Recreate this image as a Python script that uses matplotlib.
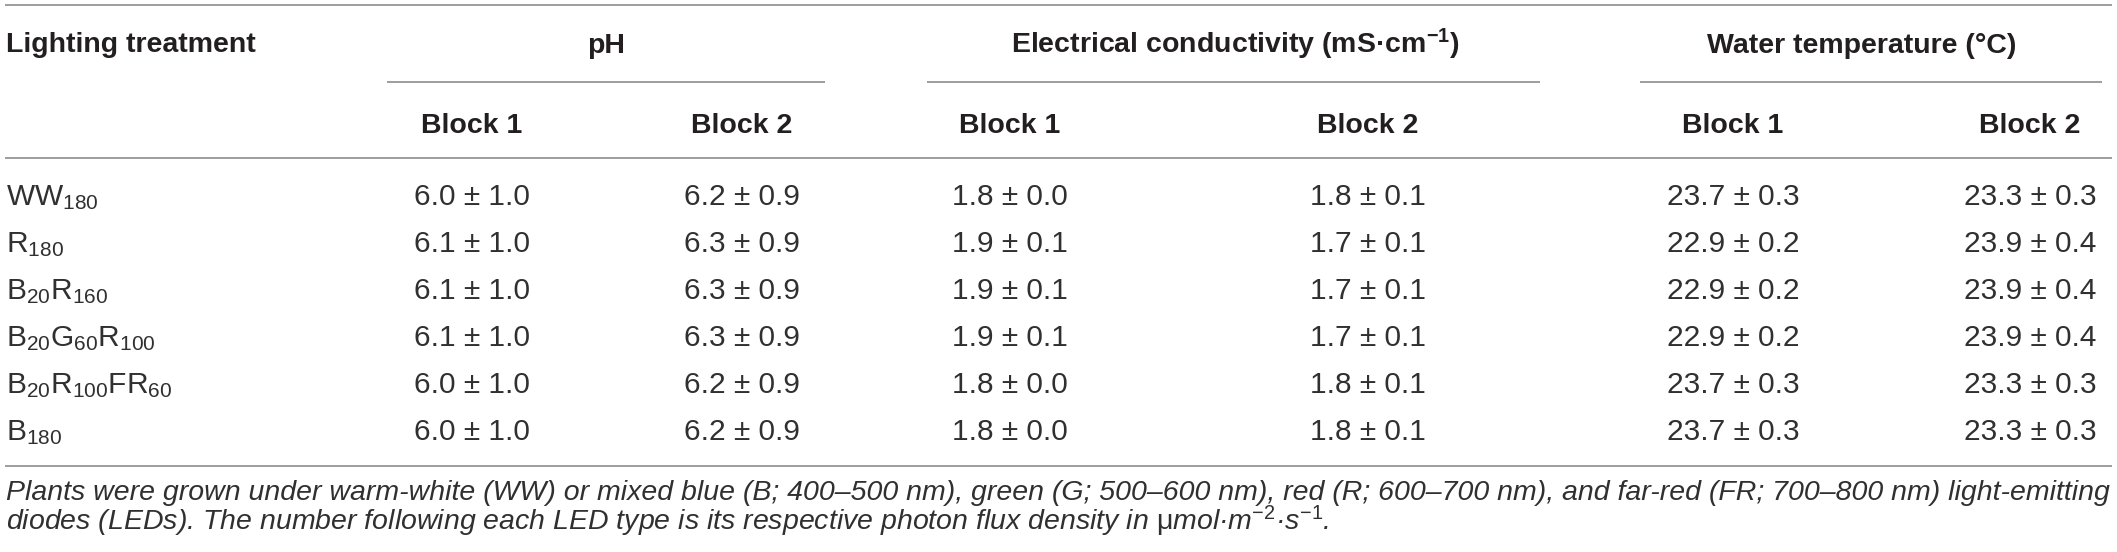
import matplotlib
matplotlib.use("Agg")
import matplotlib.pyplot as plt

plt.rcParams['font.family'] = ['Liberation Sans', 'DejaVu Sans']
plt.rcParams['mathtext.fontset'] = 'custom'
plt.rcParams['mathtext.rm'] = 'Liberation Sans'
plt.rcParams['mathtext.it'] = 'Liberation Sans:italic'
plt.rcParams['mathtext.bf'] = 'Liberation Sans:bold'

# table content
treatments = ["WW$_{180}$", "R$_{180}$", "B$_{20}$R$_{160}$", "B$_{20}$G$_{60}$R$_{100}$",
              "B$_{20}$R$_{100}$FR$_{60}$", "B$_{180}$"]
groups = ["pH", "Electrical conductivity (mS·cm$^{\\mathbf{-1}}$)", "Water temperature (°C)"]
blocks = ["Block 1", "Block 2"]

ph_b1 = [(6.0, 1.0), (6.1, 1.0), (6.1, 1.0), (6.1, 1.0), (6.0, 1.0), (6.0, 1.0)]
ph_b2 = [(6.2, 0.9), (6.3, 0.9), (6.3, 0.9), (6.3, 0.9), (6.2, 0.9), (6.2, 0.9)]
ec_b1 = [(1.8, 0.0), (1.9, 0.1), (1.9, 0.1), (1.9, 0.1), (1.8, 0.0), (1.8, 0.0)]
ec_b2 = [(1.8, 0.1), (1.7, 0.1), (1.7, 0.1), (1.7, 0.1), (1.8, 0.1), (1.8, 0.1)]
wt_b1 = [(23.7, 0.3), (22.9, 0.2), (22.9, 0.2), (22.9, 0.2), (23.7, 0.3), (23.7, 0.3)]
wt_b2 = [(23.3, 0.3), (23.9, 0.4), (23.9, 0.4), (23.9, 0.4), (23.3, 0.3), (23.3, 0.3)]

caption1 = ("Plants were grown under warm-white (WW) or mixed blue (B; 400–500 nm), green (G; 500–600 nm), "
            "red (R; 600–700 nm), and far-red (FR; 700–800 nm) light-emitting")
caption2 = ("diodes (LEDs). The number following each LED type is its respective photon flux density in "
            "$\\mathrm{\\mu}$mol·m$^{-2}$·s$^{-1}$.")

# layout (pixel coords)
W, H = 2117, 552
col_x = [472, 742, 1010, 1368, 1733, 2030]
group_x = [606, 1235, 1862]
group_lines = [(387, 825), (927, 1540), (1640, 2102)]
row_y0, row_dy = 205, 47.1
txt = '#231f20'
body_c = '#303030'
line_c = '#808285'

fig = plt.figure(figsize=(W / 100, H / 100), dpi=100)
ax = fig.add_axes([0, 0, 1, 1])
ax.set_xlim(0, W)
ax.set_ylim(H, 0)
ax.axis('off')

# rules
for y in [5, 158, 466]:
    ax.hlines(y, 5, 2112, color=line_c, lw=1.1)
for x0, x1 in group_lines:
    ax.hlines(82, x0, x1, color=line_c, lw=1.1)

# header
hfs = 20.5
ax.text(6, 52, "Lighting treatment", fontsize=hfs, fontweight='bold', color=txt, va='baseline')
for gx, g in zip(group_x, groups):
    ax.text(gx, 53, g, fontsize=hfs, fontweight='bold', color=txt, ha='center', va='baseline')
for i, cx in enumerate(col_x):
    ax.text(cx, 133, blocks[i % 2], fontsize=hfs, fontweight='bold', color=txt, ha='center', va='baseline')

# body
dfs = 21.5
columns = [ph_b1, ph_b2, ec_b1, ec_b2, wt_b1, wt_b2]
for r, name in enumerate(treatments):
    y = row_y0 + r * row_dy
    ax.text(6, y, name, fontsize=dfs, color=body_c, va='baseline')
    for cx, col in zip(col_x, columns):
        m, s = col[r]
        ax.text(cx, y, f"{m:.1f} ± {s:.1f}", fontsize=dfs, color=body_c, ha='center', va='baseline')

# footnote
cfs = 20.5
ax.text(6, 500, caption1, fontsize=cfs, style='italic', color=body_c, va='baseline')
ax.text(6, 530, caption2, fontsize=cfs, style='italic', color=body_c, va='baseline')

fig.savefig("out.png", dpi=100)
